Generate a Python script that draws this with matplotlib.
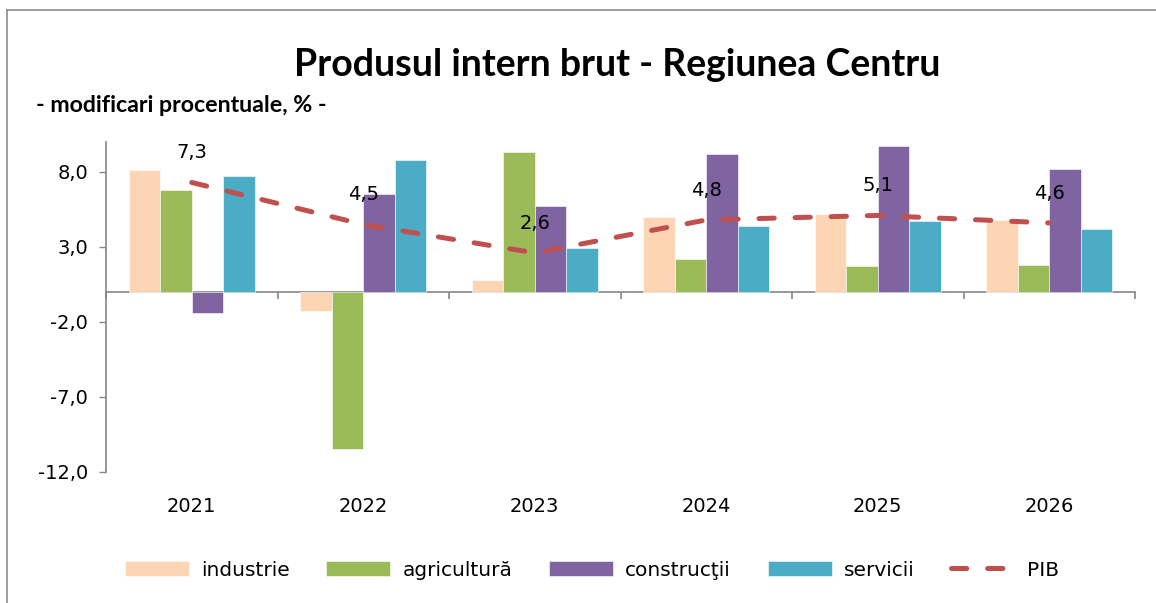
import matplotlib
matplotlib.use("Agg")
import matplotlib.pyplot as plt
from matplotlib.lines import Line2D
import numpy as np

plt.rcParams['font.family'] = ['DejaVu Sans']
plt.rcParams['lines.scale_dashes'] = False

years = ["2021", "2022", "2023", "2024", "2025", "2026"]
industrie = [8.1, -1.3, 0.8, 5.0, 5.2, 4.8]
agricultura = [6.8, -10.5, 9.3, 2.2, 1.7, 1.8]
constructii = [-1.4, 6.5, 5.7, 9.2, 9.7, 8.2]
servicii = [7.7, 8.8, 2.9, 4.4, 4.7, 4.2]
pib = [7.3, 4.5, 2.6, 4.8, 5.1, 4.6]

series_names = ["industrie", "agricultură", "construcţii", "servicii"]
series_vals = [industrie, agricultura, constructii, servicii]
colors = ["#FCD5B5", "#9BBB59", "#8064A2", "#4BACC6"]
pib_color = "#C0504D"
yticks = [-12, -7, -2, 3, 8]

W, H = 1156, 603
fig = plt.figure(figsize=(W / 100, H / 100), dpi=100)
ax = fig.add_axes([106 / W, 1 - 471.7 / H, (1135 - 106) / W, (471.7 - 142) / H])

x = np.arange(len(years))
bw = 0.184
bar_handles = []
for k, (name, vals, c) in enumerate(zip(series_names, series_vals, colors)):
    b = ax.bar(x + (k - 1.5) * bw, vals, width=bw, color=c, label=name,
               edgecolor="white", linewidth=0.4, zorder=2)
    bar_handles.append(b)

line, = ax.plot(x, pib, color=pib_color, lw=3.6, dash_capstyle="round",
                label="PIB", zorder=3)
line.set_dashes((11, 15))

for xi, v in zip(x, pib):
    ax.annotate(f"{v:.1f}".replace(".", ","), (xi, v), xytext=(0, 21.5),
                textcoords="offset points", ha="center", va="center",
                fontsize=14, color="black", zorder=4)

ax.set_xlim(-0.5, len(years) - 0.5)
ax.set_ylim(-12, 10)
ax.set_yticks(yticks)
ax.set_yticklabels([f"{t:.1f}".replace(".", ",") for t in yticks], fontsize=14)
ax.tick_params(axis="y", direction="out", length=5, width=1, color="#868686", pad=8)

for s in ["top", "right"]:
    ax.spines[s].set_visible(False)
ax.spines["left"].set_color("#868686")
ax.spines["left"].set_linewidth(1.2)
ax.spines["bottom"].set_position(("data", 0))
ax.spines["bottom"].set_color("#868686")
ax.spines["bottom"].set_linewidth(1.2)
ax.spines["bottom"].set_zorder(1)
ax.set_xticks(np.arange(len(years) + 1) - 0.5)
ax.set_xticklabels([])
ax.tick_params(axis="x", direction="out", length=5, width=1.2, color="#868686")

for xi, y in zip(x, years):
    ax.text(xi, -0.107, y, transform=ax.get_xaxis_transform(), ha="center",
            va="center", fontsize=14)

fig.text(617 / W, 1 - 65 / H, "Produsul intern brut - Regiunea Centru",
         ha="center", va="center", fontsize=27, fontweight="bold", family="Lato")
fig.text(36 / W, 1 - 105 / H, "- modificari procentuale, % -",
         ha="left", va="center", fontsize=16.7, fontweight="bold", family="Lato")

handles = bar_handles + [line]
labels = series_names + ["PIB"]
leg = fig.legend(handles, labels, loc="center", bbox_to_anchor=(592 / W, 1 - 570 / H),
                 ncol=5, frameon=False, fontsize=14.5, handlelength=3.18,
                 handletextpad=0.6, columnspacing=1.82, handleheight=0.75)

fig.add_artist(Line2D([7 / W, 7 / W], [0, 1 - 10 / H], color="#8C8C8C", lw=1.2))
fig.add_artist(Line2D([7 / W, 1], [1 - 10 / H, 1 - 10 / H], color="#8C8C8C", lw=1.2))

fig.savefig("out.png", dpi=100)
